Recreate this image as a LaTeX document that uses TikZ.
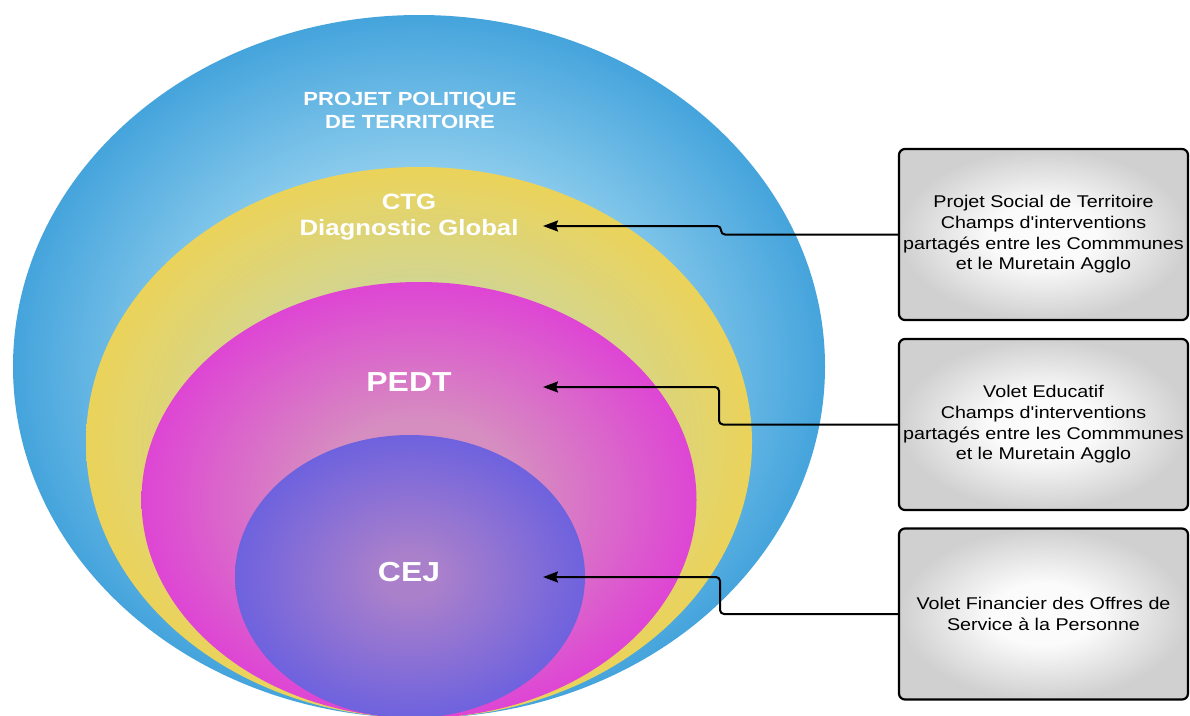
\documentclass[tikz,border=0pt]{standalone}
\usepackage{fontspec}
\setmainfont{Liberation Sans}[FakeStretch=1.16, Ligatures=TeXOff]
\usetikzlibrary{arrows.meta}
\definecolor{blueOut}{HTML}{45A4DC}
\definecolor{blueIn}{HTML}{9AD4F0}
\definecolor{yelOut}{HTML}{EBD35A}
\definecolor{yelIn}{HTML}{CFD698}
\definecolor{magOut}{HTML}{DE45D4}
\definecolor{magIn}{HTML}{D68EC0}
\definecolor{purOut}{HTML}{6E62DE}
\definecolor{purIn}{HTML}{AA80CB}
\definecolor{boxOut}{HTML}{D0D0D0}
\definecolor{boxIn}{HTML}{FBFBFB}
\pgfdeclareradialshading{blueshade}{\pgfpoint{0bp}{0bp}}{color(0bp)=(blueIn); color(12bp)=(blueIn); color(25bp)=(blueOut); color(50bp)=(blueOut)}
\pgfdeclareradialshading{yelshade}{\pgfpoint{0bp}{0bp}}{color(0bp)=(yelIn); color(13bp)=(yelIn); color(25bp)=(yelOut); color(50bp)=(yelOut)}
\pgfdeclareradialshading{magshade}{\pgfpoint{0bp}{0bp}}{color(0bp)=(magIn); color(9bp)=(magIn); color(25bp)=(magOut); color(50bp)=(magOut)}
\pgfdeclareradialshading{purshade}{\pgfpoint{0bp}{0bp}}{color(0bp)=(purIn); color(4bp)=(purIn); color(25bp)=(purOut); color(50bp)=(purOut)}
\pgfdeclareradialshading{boxshade}{\pgfpoint{0bp}{0bp}}{color(0bp)=(boxIn); color(9bp)=(boxIn); color(25bp)=(boxOut); color(50bp)=(boxOut)}
\tikzset{
  lbl/.style={text=white, font=\bfseries, align=center, inner sep=0pt},
  infobox/.style={draw=black, line width=2.2pt, rounded corners=6pt, shade, shading=boxshade,
    minimum width=289pt, minimum height=171pt, inner sep=0pt, align=center,
    font=\fontsize{17}{20.7}\selectfont},
  conn/.style={draw=black, line width=2pt, rounded corners=4pt,
    -{Stealth[length=15pt,width=11pt,inset=2pt]}}
}
\begin{document}
\begin{tikzpicture}[x=1pt,y=-1pt]
\useasboundingbox (0,0) rectangle (1190,715);
\fill[white] (0,0) rectangle (1190,715);
\begin{scope}
\clip (0,0) rectangle (1190,715);
\shade[shading=blueshade] (419,366.5) ellipse [x radius=406pt, y radius=351.5pt];
\shade[shading=yelshade] (419,442.5) ellipse [x radius=333pt, y radius=275.5pt];
\shade[shading=magshade] (419,500) ellipse [x radius=277.5pt, y radius=218pt];
\shade[shading=purshade] (410,576.5) ellipse [x radius=175pt, y radius=141.5pt];
\end{scope}

\node[lbl, font=\bfseries\fontsize{19}{22.5}\selectfont] (ppt) at (410,110.5) {PROJET POLITIQUE\\DE TERRITOIRE};
\node[lbl, font=\bfseries\fontsize{22.2}{26}\selectfont] (ctg) at (409,217) {CTG\\Diagnostic Global};
\node[lbl, font=\bfseries\fontsize{27.5}{30}\selectfont] (pedt) at (409,382) {PEDT};
\node[lbl, font=\bfseries\fontsize{27.5}{30}\selectfont] (cej) at (409,572) {CEJ};

\node[infobox] (b1) at (1043.5,234.5) {Projet Social de Territoire\\Champs d'interventions\\partagés entre les Commmunes\\et le Muretain Agglo};
\node[infobox] (b2) at (1043.5,424.5) {Volet Educatif\\Champs d'interventions\\partagés entre les Commmunes\\et le Muretain Agglo};
\node[infobox] (b3) at (1043.5,614) {Volet Financier des Offres de\\Service à la Personne};

\coordinate (t1) at (543,226);
\coordinate (t2) at (543,387);
\coordinate (t3) at (543,577);
\coordinate (s1) at (721,226);
\coordinate (s2) at (719,387);
\coordinate (s3) at (720,577);

\draw[conn] (b1.west) -| (s1) -- (t1);
\draw[conn] (b2.west) -| (s2) -- (t2);
\draw[conn] (b3.west) -| (s3) -- (t3);
\end{tikzpicture}
\end{document}
